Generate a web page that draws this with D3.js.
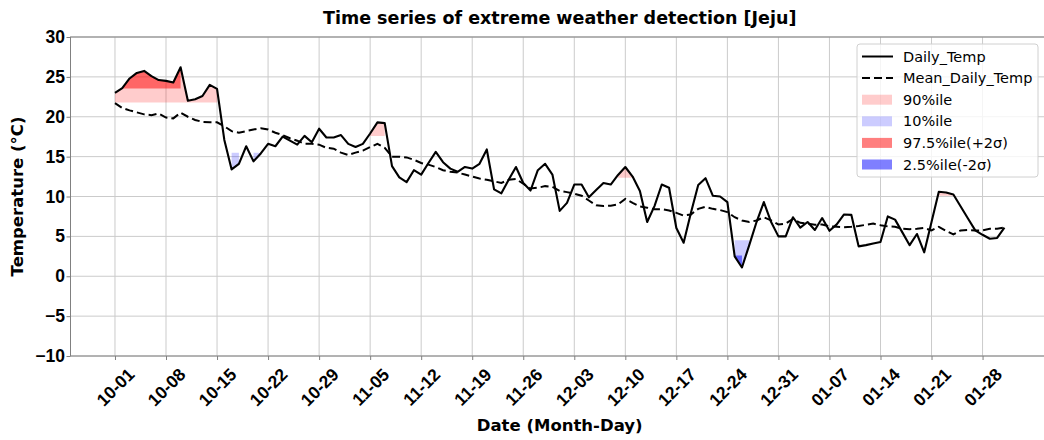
<!DOCTYPE html>
<html>
<head>
<meta charset="utf-8">
<script src="https://cdn.jsdelivr.net/npm/d3@7"></script>
<style>
  html, body { margin: 0; padding: 0; background: #fff; }
  svg { display: block; font-family: "DejaVu Sans", sans-serif; }
</style>
</head>
<body>
<div id="chart"></div>
<script>
// Daily temperature, one value per day from 10-01
const dailyTemp = [
  23.0, 23.6, 24.8, 25.5, 25.75, 25.1, 24.6, 24.5, 24.3, 26.2,
  22.0, 22.2, 22.6, 24.0, 23.5, 17.1, 13.4, 14.1, 16.3, 14.4,
  15.4, 16.6, 16.3, 17.5, 17.0, 16.5, 17.6, 16.8, 18.5, 17.4,
  17.4, 17.7, 16.6, 16.2, 16.6, 17.9, 19.3, 19.2, 13.8, 12.4,
  11.8, 13.3, 12.75, 14.2, 15.6, 14.3, 13.5, 13.1, 13.7, 13.5,
  14.1, 15.9, 10.9, 10.4, 12.1, 13.7, 11.7, 10.75, 13.3, 14.1,
  12.75, 8.2, 9.2, 11.5, 11.5, 9.9, 10.8, 11.7, 11.5, 12.7,
  13.7, 12.5, 10.7, 6.8, 8.8, 11.5, 11.1, 6.05, 4.2, 7.95,
  11.45, 12.3, 10.1, 10.0, 9.3, 2.5, 1.1, 3.9, 6.8, 9.3,
  6.8, 5.0, 5.0, 7.4, 6.1, 6.8, 5.8, 7.3, 5.7, 6.5,
  7.75, 7.7, 3.75, 3.9, 4.1, 4.3, 7.5, 7.1, 5.5, 3.9,
  5.3, 3.0, 6.8, 10.6, 10.5, 10.25, 8.75, 7.25, 5.75, 5.2,
  4.7, 4.8, 6.1
];

// Mean daily temperature (climatology)
const meanTemp = [
  21.7, 21.1, 20.8, 20.55, 20.3, 20.2, 20.4, 19.9, 19.8, 20.5,
  20.0, 19.6, 19.35, 19.3, 19.3, 18.8, 18.2, 18.0, 18.2, 18.4,
  18.55, 18.4, 18.0, 17.7, 17.3, 17.0, 16.6, 16.6, 16.5, 16.1,
  16.0, 15.5, 15.2, 15.5, 15.75, 16.2, 16.6, 16.1, 15.0, 15.0,
  14.9, 14.6, 14.2, 14.0, 13.7, 13.3, 13.1, 13.0, 12.75, 12.5,
  12.25, 12.1, 11.9, 11.7, 12.1, 12.2, 11.6, 11.0, 11.1, 11.3,
  11.2, 10.7, 10.55, 10.35, 10.1, 9.5, 8.9, 8.8, 8.85, 9.0,
  9.7, 9.2, 8.75, 8.6, 8.4, 8.4, 8.25, 7.95, 7.6, 7.75,
  8.45, 8.7, 8.45, 8.3, 8.05, 7.4, 7.0, 6.8, 7.0, 7.4,
  7.0, 6.5, 6.6, 7.2, 6.7, 6.6, 6.45, 6.5, 6.25, 6.2,
  6.15, 6.2, 6.3, 6.45, 6.6, 6.4, 6.25, 6.2, 5.95, 5.9,
  5.95, 6.05, 5.75, 6.2, 5.7, 5.25, 5.75, 5.8, 5.75, 5.75,
  5.95, 5.95, 6.1
];

// Monthly thresholds (Oct, Nov, Dec, Jan)
const thrMonths = [9, 10, 11, 0];
const p90 = [21.8, 17.6, 12.35, 10.1];
const p10 = [15.5, 9.8, 4.5, 3.2];
const p975 = [23.55, 20.0, 14.5, 11.8];
const p025 = [12.5, 8.0, 2.6, 1.0];

const yTicks = [-10, -5, 0, 5, 10, 15, 20, 25, 30];

// Dates
const startDate = new Date(Date.UTC(2023, 9, 1));
const dates = dailyTemp.map((_, i) => d3.utcDay.offset(startDate, i));
const tickDates = d3.utcDay.range(startDate, d3.utcDay.offset(startDate, 120), 7);
const dayMs = 864e5;

const W = 1044, H = 440;
const plot = { left: 70.5, right: 1048.9, top: 37, bottom: 356 };

const svg = d3.select("#chart").append("svg")
  .attr("width", W).attr("height", H)
  .style("overflow", "hidden");

const x = d3.scaleUtc()
  .domain([new Date(startDate.getTime() - 6.1 * dayMs), new Date(startDate.getTime() + 128.1 * dayMs)])
  .range([plot.left, plot.right]);
const y = d3.scaleLinear().domain([-10, 30]).range([plot.bottom, plot.top]);

// Grid
const grid = svg.append("g").attr("stroke", "#cbcbcb").attr("stroke-width", 1);
grid.selectAll("line.v").data(tickDates).join("line")
  .attr("x1", d => x(d)).attr("x2", d => x(d))
  .attr("y1", plot.top).attr("y2", plot.bottom);
grid.selectAll("line.h").data(yTicks).join("line")
  .attr("x1", plot.left).attr("x2", plot.right)
  .attr("y1", d => y(d)).attr("y2", d => y(d));

// Exceedance fills (matplotlib fill_between with where, no interpolation)
function thrSeries(arr) {
  return dates.map(d => arr[thrMonths.indexOf(d.getUTCMonth())]);
}
function runs(thr, above) {
  const out = [];
  let cur = null;
  dailyTemp.forEach((v, i) => {
    const ok = above ? v > thr[i] : v < thr[i];
    if (ok) {
      if (!cur) { cur = []; out.push(cur); }
      cur.push({ date: dates[i], v: v, t: thr[i] });
    } else {
      cur = null;
    }
  });
  return out.filter(r => r.length > 1);
}
const area = d3.area().x(d => x(d.date)).y0(d => y(d.t)).y1(d => y(d.v));

const fills = [
  { thr: p90, above: true, color: "red", opacity: 0.2 },
  { thr: p10, above: false, color: "blue", opacity: 0.2 },
  { thr: p975, above: true, color: "red", opacity: 0.5 },
  { thr: p025, above: false, color: "blue", opacity: 0.5 }
];
fills.forEach(f => {
  svg.append("g").selectAll("path")
    .data(runs(thrSeries(f.thr), f.above))
    .join("path")
    .attr("d", area)
    .attr("fill", f.color)
    .attr("fill-opacity", f.opacity)
    .attr("stroke", "none");
});

// Lines
const line = d3.line().x((d, i) => x(dates[i])).y(d => y(d));
svg.append("path").datum(meanTemp)
  .attr("d", line).attr("fill", "none")
  .attr("stroke", "#000").attr("stroke-width", 2)
  .attr("stroke-dasharray", "8,4");
svg.append("path").datum(dailyTemp)
  .attr("d", line).attr("fill", "none")
  .attr("stroke", "#000").attr("stroke-width", 2.1)
  .attr("stroke-linejoin", "round");

// Spines
svg.append("rect")
  .attr("x", plot.left).attr("y", plot.top)
  .attr("width", plot.right - plot.left).attr("height", plot.bottom - plot.top)
  .attr("fill", "none").attr("stroke", "#808080").attr("stroke-width", 1);

// Axes
const xAxis = svg.append("g")
  .attr("transform", `translate(0,${plot.bottom})`)
  .call(d3.axisBottom(x).tickValues(tickDates).tickFormat(d3.utcFormat("%m-%d")).tickSize(4));
xAxis.select(".domain").remove();
xAxis.selectAll(".tick line").attr("stroke", "#808080");
xAxis.selectAll(".tick text")
  .attr("y", 0).attr("dy", "0.35em")
  .attr("text-anchor", "middle")
  .attr("transform", "translate(0,31) rotate(-45)")
  .style("font-size", "17.5px").style("font-weight", "bold").attr("fill", "#000");

const yAxis = svg.append("g")
  .attr("transform", `translate(${plot.left},0)`)
  .call(d3.axisLeft(y).tickValues(yTicks).tickSize(4).tickPadding(1.5));
yAxis.select(".domain").remove();
yAxis.selectAll(".tick line").attr("stroke", "#808080");
yAxis.selectAll(".tick text")
  .style("font-size", "17.5px").style("font-weight", "bold").attr("fill", "#000");

// Titles
svg.append("text")
  .attr("x", (plot.left + plot.right) / 2).attr("y", 24)
  .attr("text-anchor", "middle")
  .style("font-size", "17.5px").style("font-weight", "bold")
  .text("Time series of extreme weather detection [Jeju]");
svg.append("text")
  .attr("x", (plot.left + plot.right) / 2).attr("y", 431)
  .attr("text-anchor", "middle")
  .style("font-size", "16.5px").style("font-weight", "bold")
  .text("Date (Month-Day)");
svg.append("text")
  .attr("transform", `translate(23,${(plot.top + plot.bottom) / 2}) rotate(-90)`)
  .attr("text-anchor", "middle")
  .style("font-size", "16.5px").style("font-weight", "bold")
  .text("Temperature (°C)");

// Legend
const legendItems = [
  { label: "Daily_Temp", type: "line" },
  { label: "Mean_Daily_Temp", type: "dash" },
  { label: "90%ile", type: "patch", color: "red", opacity: 0.2 },
  { label: "10%ile", type: "patch", color: "blue", opacity: 0.2 },
  { label: "97.5%ile(+2σ)", type: "patch", color: "red", opacity: 0.5 },
  { label: "2.5%ile(-2σ)", type: "patch", color: "blue", opacity: 0.5 }
];
const legend = svg.append("g");
legend.append("rect")
  .attr("x", 857).attr("y", 44).attr("width", 181).attr("height", 133)
  .attr("rx", 3).attr("fill", "#fff").attr("fill-opacity", 0.8)
  .attr("stroke", "#d0d0d0");
const rows = legend.selectAll("g.item").data(legendItems).join("g")
  .attr("transform", (d, i) => `translate(0,${56.5 + i * 21.6})`);
rows.filter(d => d.type !== "patch").append("line")
  .attr("x1", 862).attr("x2", 893).attr("y1", 0).attr("y2", 0)
  .attr("stroke", "#000").attr("stroke-width", 2)
  .attr("stroke-dasharray", d => d.type === "dash" ? "8,4" : null);
rows.filter(d => d.type === "patch").append("rect")
  .attr("x", 862).attr("y", -5).attr("width", 30).attr("height", 10)
  .attr("fill", d => d.color).attr("fill-opacity", d => d.opacity);
rows.append("text")
  .attr("x", 903).attr("y", 0).attr("dy", "0.35em")
  .style("font-size", "14.5px")
  .text(d => d.label);
</script>
</body>
</html>
